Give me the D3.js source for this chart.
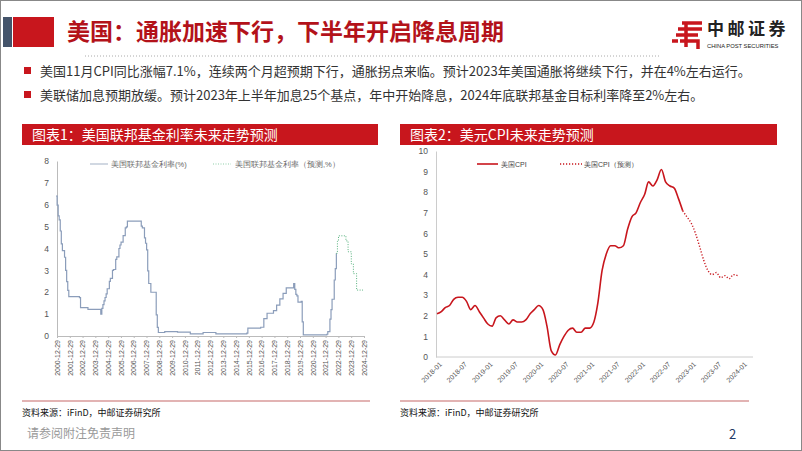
<!DOCTYPE html>
<html><head><meta charset="utf-8">
<script src="https://cdn.jsdelivr.net/npm/d3@7"></script>
<style>body{margin:0;background:#fff}svg{display:block;font-family:"Noto Sans CJK SC","Noto Sans",sans-serif}</style>
</head><body><svg id="c" width="802" height="451"></svg>
<script>
// ---- Data ----
const fedDates = ["2000-12","2001-01","2001-02","2001-03","2001-04","2001-05","2001-06","2001-08","2001-09","2001-10","2001-11","2001-12","2002-10","2002-11","2003-06","2004-06","2004-07","2004-08","2004-09","2004-10","2004-11","2004-12","2005-02","2005-03","2005-05","2005-06","2005-08","2005-09","2005-11","2005-12","2006-01","2006-03","2006-05","2006-06","2006-07","2007-07","2007-08","2007-09","2007-11","2007-12","2008-01","2008-02","2008-03","2008-05","2008-09","2008-10","2008-11","2008-12","2009-06","2010-06","2011-06","2012-06","2013-06","2014-06","2015-11","2015-12","2016-12","2017-03","2017-06","2017-12","2018-03","2018-06","2018-09","2018-12","2019-07","2019-08","2019-09","2019-10","2019-11","2020-02","2020-03","2020-04","2022-02","2022-03","2022-05","2022-06","2022-07","2022-09","2022-10","2022-11"];
const fedValues = [6.4,5.98,5.49,5.31,4.8,4.21,3.9,3.6,3.0,2.49,2.09,1.8,1.75,1.3,1.22,1.0,1.26,1.43,1.61,1.76,1.93,2.16,2.5,2.63,3.0,3.04,3.5,3.62,4.0,4.16,4.29,4.59,4.94,4.99,5.25,5.25,5.02,4.94,4.49,4.24,3.94,2.98,2.4,2.0,2.0,0.97,0.39,0.16,0.2,0.18,0.1,0.16,0.1,0.1,0.13,0.36,0.4,0.79,1.04,1.16,1.41,1.7,1.95,2.2,2.4,2.13,1.9,1.83,1.55,1.58,0.65,0.05,0.08,0.2,0.77,1.21,1.68,2.56,3.08,3.78];
const fedFcDates = ["2022-11","2022-12","2023-01","2023-07","2023-08","2023-10","2024-01","2024-03","2024-06","2024-12"];
const fedFcValues = [3.78,4.33,4.58,4.58,4.35,3.85,3.3,2.85,2.1,2.1];
const fedTicks = d3.range(2000,2025).map(y=>y+"-12-29");

const cpiMonths = d3.range(0,59).map(i=>{const y=2018+Math.floor(i/12),m=i%12+1;return y+"-"+String(m).padStart(2,"0");});
const cpiValues = [2.1,2.2,2.4,2.5,2.8,2.9,2.9,2.7,2.3,2.5,2.2,1.9,1.6,1.5,1.9,2.0,1.8,1.6,1.8,1.7,1.7,1.8,2.1,2.3,2.5,2.3,1.5,0.3,0.1,0.6,1.0,1.3,1.4,1.2,1.2,1.4,1.4,1.7,2.6,4.2,5.0,5.4,5.4,5.3,5.4,6.2,6.8,7.0,7.5,7.9,8.5,8.3,8.6,9.1,8.5,8.3,8.2,7.7,7.1];
const cpiFcMonths = ["2022-11","2022-12","2023-01","2023-02","2023-03","2023-04","2023-05","2023-06","2023-07","2023-08","2023-09","2023-10","2023-11","2023-12"];
const cpiFcValues = [7.1,6.8,6.5,6.0,5.4,4.7,4.2,4.0,4.1,3.85,3.95,3.8,4.0,3.95];
const cpiTicks = ["2018-01","2018-07","2019-01","2019-07","2020-01","2020-07","2021-01","2021-07","2022-01","2022-07","2023-01","2023-07","2024-01"];

const bullets = ["美国11月CPI同比涨幅7.1%，连续两个月超预期下行，通胀拐点来临。预计2023年美国通胀将继续下行，并在4%左右运行。",
 "美联储加息预期放缓。预计2023年上半年加息25个基点，年中开始降息，2024年底联邦基金目标利率降至2%左右。"];

// ---- Slide frame ----
const svg = d3.select("#c");
const RED="#c8161d";
svg.append("rect").attr("x",0.5).attr("y",0.5).attr("width",801).attr("height",450).attr("fill","#fff").attr("stroke","#888");
svg.append("rect").attr("x",3).attr("y",17).attr("width",9).attr("height",30).attr("fill","#44546a");
svg.append("rect").attr("x",13).attr("y",17).attr("width",41).attr("height",30).attr("fill",RED);
svg.append("text").attr("x",67).attr("y",40).attr("font-size",23).attr("font-weight","bold").attr("fill","#b3121a").text("美国：通胀加速下行，下半年开启降息周期");
svg.append("line").attr("x1",85).attr("x2",660).attr("y1",56).attr("y2",56).attr("stroke","#aaa").attr("stroke-dasharray","1,2");
// logo
const lg=svg.append("g").attr("transform","translate(672,20)");
lg.append("path").attr("d","M10,3h20M6,9h24M14,3v24M4,15h22M8,21h18v8M0,21h6").attr("stroke",RED).attr("stroke-width",3.5).attr("fill","none");
svg.append("text").attr("x",707).attr("y",35).attr("font-size",17).attr("font-weight","bold").attr("fill","#222").attr("letter-spacing",3.5).text("中邮证券");
svg.append("text").attr("x",707).attr("y",48).attr("font-size",5.8).attr("fill","#222").attr("font-family","Liberation Sans,Arial,sans-serif").text("CHINA POST SECURITIES");
bullets.forEach((b,i)=>{
  svg.append("rect").attr("x",24).attr("y",67+i*24).attr("width",7).attr("height",7).attr("fill",RED);
  svg.append("text").attr("x",40).attr("y",76+i*24).attr("font-size",13).attr("fill","#333").text(b);
});
[[22,378,"图表1：美国联邦基金利率未来走势预测"],[400,777,"图表2：美元CPI未来走势预测"]].forEach(([x0,x1,t])=>{
  svg.append("rect").attr("x",x0).attr("y",124).attr("width",x1-x0).attr("height",21).attr("fill",RED);
  svg.append("text").attr("x",x0+10).attr("y",140).attr("font-size",14).attr("fill","#fff").text(t);
});
[[22,370],[400,749]].forEach(([x0,x1])=>{
  svg.append("line").attr("x1",x0).attr("x2",x1).attr("y1",401).attr("y2",401).attr("stroke","#d99a9a").attr("stroke-width",1.5);
  svg.append("text").attr("x",x0).attr("y",416).attr("font-size",9).attr("fill","#111").text("资料来源：iFinD，中邮证券研究所");
});
svg.append("text").attr("x",27).attr("y",438).attr("font-size",12).attr("fill","#999").text("请参阅附注免责声明");
svg.append("text").attr("x",729).attr("y",439).attr("font-size",13).attr("fill","#1f3864").text("2");

// ---- Chart 1 ----
const pm=d3.timeParse("%Y-%m"), pd=d3.timeParse("%Y-%m-%d");
const x1=d3.scaleTime().domain([pd("2000-12-29"),pd("2024-12-29")]).range([57,364]);
const y1=d3.scaleLinear().domain([0,8]).range([336,161]);
const g1=svg.append("g").attr("font-family","Liberation Sans,Arial,sans-serif");
g1.append("g").attr("transform","translate(57,0)").call(d3.axisLeft(y1).ticks(8).tickSize(0).tickPadding(8))
  .call(a=>{a.select(".domain").attr("stroke","#bbb");a.selectAll("text").attr("font-size",8.5).attr("fill","#555");});
g1.append("g").attr("transform","translate(0,336)").call(d3.axisBottom(x1).tickValues(fedTicks.map(pd)).tickFormat(d3.timeFormat("%Y-%m-%d")).tickSize(2))
  .call(a=>{a.select(".domain").attr("stroke","#bbb");a.selectAll("line").attr("stroke","#bbb");
    a.selectAll("text").attr("font-size",7).attr("fill","#555").attr("transform","rotate(-90)").attr("text-anchor","end").attr("x",-4).attr("y",0).attr("dy","0.32em");});
const step=d3.line().x(d=>x1(d[0])).y(d=>y1(d[1])).curve(d3.curveStepAfter);
g1.append("path").datum(fedDates.map((d,i)=>[pm(d),fedValues[i]])).attr("d",step).attr("fill","none").attr("stroke","#8b9dba").attr("stroke-width",1.2);
g1.append("path").datum(fedFcDates.map((d,i)=>[pm(d),fedFcValues[i]])).attr("d",step).attr("fill","none").attr("stroke","#55b07c").attr("stroke-width",1).attr("stroke-dasharray","1,1.5");
g1.append("line").attr("x1",90).attr("x2",108).attr("y1",164).attr("y2",164).attr("stroke","#b9c3d3").attr("stroke-width",1.3);
g1.append("text").attr("x",111).attr("y",167).attr("font-size",7.5).attr("fill","#666").text("美国联邦基金利率(%)");
g1.append("line").attr("x1",213).attr("x2",231).attr("y1",164).attr("y2",164).attr("stroke","#8fcfa9").attr("stroke-dasharray","1,1.5");
g1.append("text").attr("x",235).attr("y",167).attr("font-size",7.5).attr("fill","#666").text("美国联邦基金利率（预测,%）");

// ---- Chart 2 ----
const x2=d3.scaleTime().domain([pm("2018-01"),pm("2024-01")]).range([437,742]);
const y2=d3.scaleLinear().domain([0,10]).range([357,151]);
const g2=svg.append("g").attr("font-family","Liberation Sans,Arial,sans-serif");
g2.append("g").attr("transform","translate(436,0)").call(d3.axisLeft(y2).ticks(10).tickSize(0).tickPadding(8))
  .call(a=>{a.select(".domain").attr("stroke","#ccc");a.selectAll("text").attr("font-size",8.5).attr("fill","#555");});
g2.append("line").attr("x1",436).attr("x2",753).attr("y1",357).attr("y2",357).attr("stroke","#ccc");
g2.append("g").attr("transform","translate(0,357)").call(d3.axisBottom(x2).tickValues(cpiTicks.map(pm)).tickFormat(d3.timeFormat("%Y-%m")).tickSize(0))
  .call(a=>{a.select(".domain").remove();
    a.selectAll("text").attr("font-size",7).attr("fill","#555").attr("transform","rotate(-45)").attr("text-anchor","end").attr("x",-2).attr("y",4);});
const ln=d3.line().x(d=>x2(d[0])).y(d=>y2(d[1])).curve(d3.curveMonotoneX);
g2.append("path").datum(cpiMonths.map((d,i)=>[pm(d),cpiValues[i]])).attr("d",ln).attr("fill","none").attr("stroke",RED).attr("stroke-width",1.6);
g2.append("path").datum(cpiFcMonths.map((d,i)=>[pm(d),cpiFcValues[i]])).attr("d",ln).attr("fill","none").attr("stroke",RED).attr("stroke-width",1.4).attr("stroke-dasharray","1.2,1.8");
g2.append("line").attr("x1",477).attr("x2",498).attr("y1",164).attr("y2",164).attr("stroke",RED).attr("stroke-width",1.6);
g2.append("text").attr("x",501).attr("y",167).attr("font-size",7).attr("fill","#444").text("美国CPI");
g2.append("line").attr("x1",560).attr("x2",582).attr("y1",164).attr("y2",164).attr("stroke",RED).attr("stroke-width",1.4).attr("stroke-dasharray","1.2,1.8");
g2.append("text").attr("x",584).attr("y",167).attr("font-size",7).attr("fill","#444").text("美国CPI（预测）");
</script></body></html>
